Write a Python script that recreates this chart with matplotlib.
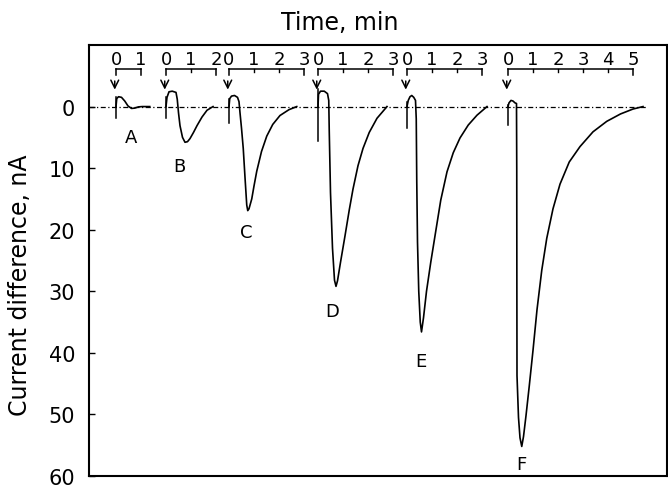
import numpy as np
import matplotlib.pyplot as plt

# injection position of each run on a shared time axis (min) and length of its time scale
names = ["A", "B", "C", "D", "E", "F"]
starts = [0.0, 2.0, 4.52, 8.08, 11.64, 15.68]
scale_len = [1, 2, 3, 3, 3, 5]

# current difference (nA) vs time after injection (min), positive = downward deflection
t_A = [0, 0.03, 0.1, 0.22, 0.35, 0.48, 0.62, 0.75, 0.9, 1.05, 1.35]
v_A = [0, -1.3, -1.6, -1.5, -0.9, -0.1, 0.3, 0.25, 0.05, 0, 0]

t_B = [0, 0.04, 0.12, 0.25, 0.4, 0.45, 0.5, 0.56, 0.66, 0.76, 0.86, 0.96, 1.1, 1.24, 1.44, 1.64, 1.88]
v_B = [0, -1.5, -2.4, -2.5, -2.3, -1.2, 1.0, 3.1, 5.0, 5.8, 5.7, 5.2, 4.2, 3.1, 1.7, 0.6, 0]

t_C = [0, 0.03, 0.1, 0.22, 0.34, 0.4, 0.44, 0.5, 0.57, 0.64, 0.71, 0.75, 0.8, 0.91, 1.0, 1.11, 1.3,
       1.51, 1.75, 2.04, 2.4, 2.71]
v_C = [0, -1.3, -1.7, -1.8, -1.5, -0.8, 1.0, 3.5, 6.8, 11.5, 16.0, 16.9, 16.6, 15.0, 12.9, 10.5, 7.3,
       4.8, 2.9, 1.45, 0.5, 0]

t_D = [0, 0.02, 0.1, 0.25, 0.38, 0.43, 0.45, 0.5, 0.58, 0.66, 0.72, 0.78, 0.9, 1.08, 1.25, 1.4,
       1.6, 1.8, 2.05, 2.36, 2.76]
v_D = [0, -2.0, -2.5, -2.5, -2.1, -1.0, 4, 14, 23, 28.2, 29.2, 28.3, 25.3, 21.0, 16.8, 13.4,
       9.6, 6.8, 4.2, 1.9, 0]

t_E = [0, 0.05, 0.12, 0.19, 0.27, 0.34, 0.37, 0.39, 0.42, 0.47, 0.53, 0.58, 0.66, 0.78, 0.95,
       1.12, 1.35, 1.6, 1.85, 2.12, 2.45, 2.8, 3.2]
v_E = [0, -1.0, -1.6, -1.8, -1.5, -1.0, 2, 12, 22, 30, 35, 36.6, 34.3, 30.0, 25.3, 21.0, 15.2, 10.6,
       7.5, 5.1, 3.0, 1.4, 0]

t_F = [0, 0.04, 0.12, 0.2, 0.28, 0.34, 0.35, 0.355, 0.36, 0.42, 0.48, 0.55, 0.62, 0.72, 0.85,
       1.0, 1.16, 1.35, 1.55, 1.8, 2.08, 2.45, 2.88, 3.4, 3.95, 4.5, 5.0, 5.4]
v_F = [0, -0.6, -1.0, -0.9, -0.6, -0.5, 10, 30, 43.7, 50.5, 53.8, 55.2, 53.6, 50.2, 45.4,
       39.6, 33.0, 26.6, 21.4, 16.6, 12.6, 9.0, 6.5, 4.1, 2.4, 1.2, 0.4, 0]

curves_t = [t_A, t_B, t_C, t_D, t_E, t_F]
curves_v = [v_A, v_B, v_C, v_D, v_E, v_F]

# peak letters (time after injection, nA)
label_t = [0.6, 0.53, 0.7, 0.58, 0.55, 0.55]
label_v = [4.9, 9.6, 20.3, 33.2, 41.3, 58.1]

# vertical injection mark extent (nA)
inj_top = [-1.6, -1.6, -1.3, -2.9, -0.8, -0.2]
inj_bot = [1.9, 1.9, 2.7, 5.6, 3.5, 3.0]

fig = plt.figure(figsize=(6.68, 4.89), dpi=100)
ax = fig.add_axes([89 / 668, 1 - 477 / 489, 578 / 668, 431 / 489])

ax.set_xlim(-1.08, 22.04)
ax.set_ylim(60, -10)

# dash-dot zero line
ax.axhline(0, xmin=0, xmax=0.965, color="k", lw=0.9, ls=(0, (4, 2, 1, 2)))

for i, name in enumerate(names):
    s = starts[i]
    t = np.array(curves_t[i]) + s
    ax.plot(t, curves_v[i], color="k", lw=1.2)

    # injection mark and arrow
    ax.plot([s, s], [inj_top[i], inj_bot[i]], color="k", lw=1.1)
    ax.annotate("", xy=(s - 0.05, -2.3), xytext=(s - 0.05, -4.6),
                arrowprops=dict(arrowstyle="->", lw=1.1, color="k", mutation_scale=14))

    # time scale bracket above each run
    n = scale_len[i]
    ax.plot([s, s + n], [-6.1, -6.1], color="k", lw=1.1)
    ax.plot([s, s], [-6.1, -5.2], color="k", lw=1.1)
    ax.plot([s + n, s + n], [-6.1, -5.2], color="k", lw=1.1)
    for m in range(1, n):
        ax.plot([s + m, s + m], [-6.1, -5.6], color="k", lw=1.0)
    for m in range(n + 1):
        ax.text(s + m, -7.8, str(m), ha="center", va="center", fontsize=13)

    ax.text(s + label_t[i], label_v[i], name, ha="center", va="center", fontsize=13)

ax.set_xticks([])
ax.set_yticks(range(0, 61, 10))
ax.tick_params(axis="y", direction="in", length=4, width=1, pad=10, labelsize=15)
for sp in ax.spines.values():
    sp.set_linewidth(1.5)

fig.text(340 / 668, 1 - 23 / 489, "Time, min", ha="center", va="center", fontsize=17)
fig.text(20 / 668, 1 - 285 / 489, "Current difference, nA", ha="center", va="center",
         rotation=90, fontsize=17)

fig.savefig("out.png", dpi=100)
